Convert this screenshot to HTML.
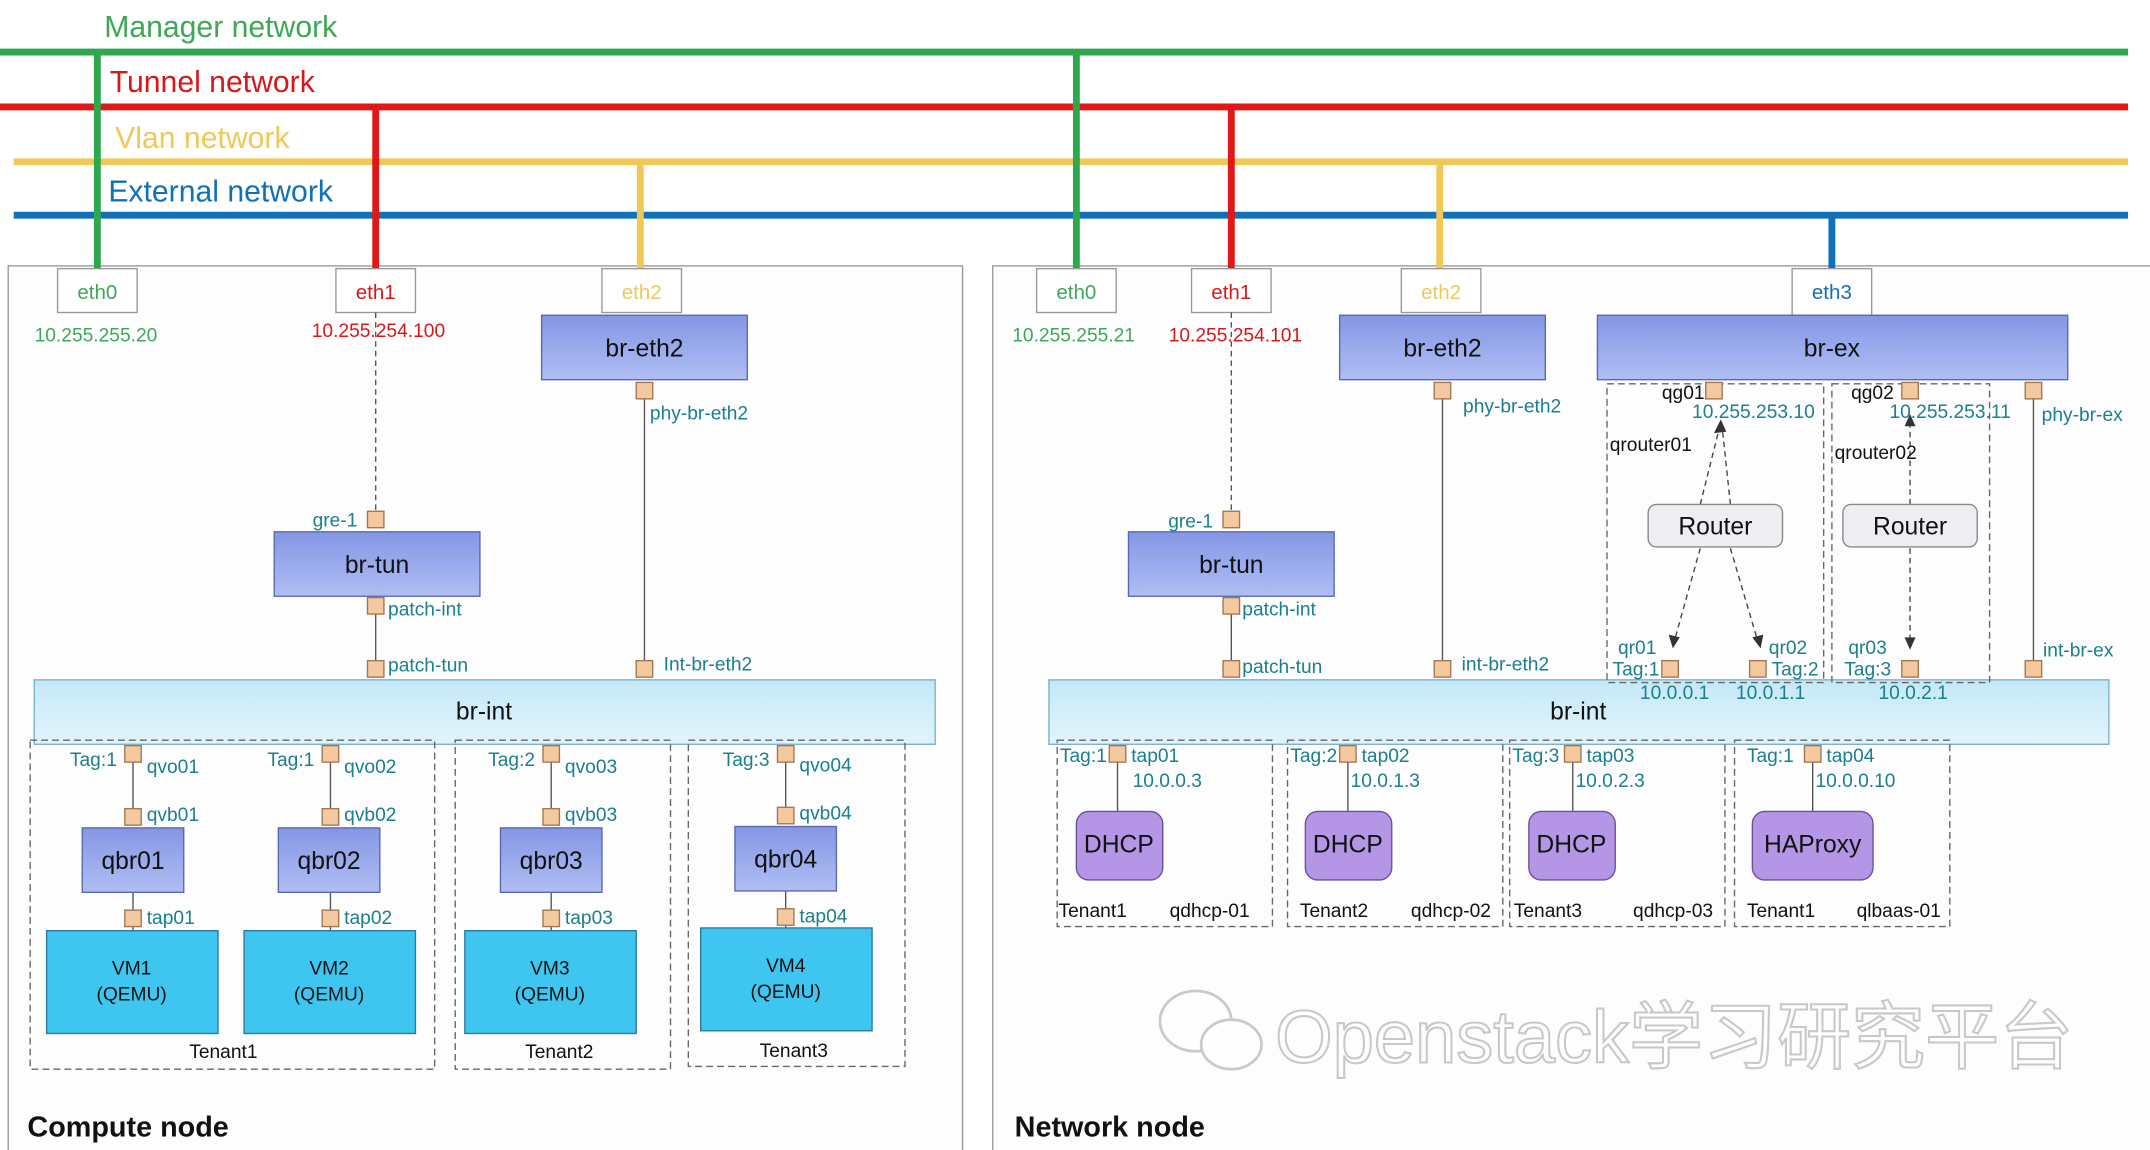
<!DOCTYPE html>
<html><head><meta charset="utf-8"><style>
html,body{margin:0;padding:0;background:#fff}
svg{display:block}
text{font-family:"Liberation Sans","Noto Sans CJK SC",sans-serif}
.p{fill:#f5c9a0;stroke:#a07850;stroke-width:1}
.l{fill:#1a7f8f;font-size:14px}
.br{fill:url(#gb);stroke:#5a68b0;stroke-width:1}
.bt{font-size:18px;fill:#111;text-anchor:middle}
.vm{fill:#3ec6f0;stroke:#2a7aa0}
.vt{font-size:14px;fill:#111;text-anchor:middle}
.dg{fill:none;stroke:#666;stroke-dasharray:5,3;stroke-width:1}
.dh{fill:#b596e6;stroke:#6a5098}
.k{fill:#111;font-size:14px}
</style></head><body>
<svg width="2150" height="1150" viewBox="0 0 1568 839" preserveAspectRatio="none">
<defs>
<linearGradient id="gb" x1="0" y1="0" x2="0" y2="1"><stop offset="0" stop-color="#8496e6"/><stop offset="1" stop-color="#b0bef2"/></linearGradient>
<linearGradient id="gi" x1="0" y1="0" x2="0" y2="1"><stop offset="0" stop-color="#c4e8f8"/><stop offset="1" stop-color="#e2f4fc"/></linearGradient>
</defs>
<rect width="1568" height="839" fill="#fff"/>
<!-- panels -->
<rect x="6" y="194" width="696" height="660" fill="#fdfdfd" stroke="#999"/>
<rect x="724" y="194" width="860" height="660" fill="#fdfdfd" stroke="#999"/>
<!-- networks -->
<line x1="0" y1="38" x2="1552" y2="38" stroke="#2ea84c" stroke-width="5"/>
<line x1="0" y1="78" x2="1552" y2="78" stroke="#e01818" stroke-width="5"/>
<line x1="10" y1="118" x2="1552" y2="118" stroke="#f0c858" stroke-width="5"/>
<line x1="10" y1="157" x2="1552" y2="157" stroke="#1070b8" stroke-width="5"/>
<text x="76" y="27" font-size="22" fill="#3ea856">Manager network</text>
<text x="80" y="67" font-size="22" fill="#d81818">Tunnel network</text>
<text x="84" y="108" font-size="22" fill="#f0c858">Vlan network</text>
<text x="79" y="147" font-size="22" fill="#1070b8">External network</text>
<g stroke-width="5">
<line x1="71" y1="38" x2="71" y2="197" stroke="#2ea84c"/>
<line x1="274" y1="78" x2="274" y2="197" stroke="#e01818"/>
<line x1="467" y1="118" x2="467" y2="197" stroke="#f0c858"/>
<line x1="785" y1="38" x2="785" y2="197" stroke="#2ea84c"/>
<line x1="898" y1="78" x2="898" y2="197" stroke="#e01818"/>
<line x1="1050" y1="118" x2="1050" y2="197" stroke="#f0c858"/>
<line x1="1336" y1="157" x2="1336" y2="197" stroke="#1070b8"/>
</g>
<!-- eth boxes -->
<g fill="#fff" stroke="#999">
<rect x="42" y="196" width="58" height="32"/><rect x="245" y="196" width="58" height="32"/><rect x="439" y="196" width="58" height="32"/>
<rect x="756" y="196" width="58" height="32"/><rect x="869" y="196" width="58" height="32"/><rect x="1022" y="196" width="58" height="32"/><rect x="1307" y="196" width="58" height="34"/>
</g>
<g font-size="15" text-anchor="middle">
<text x="71" y="218" fill="#3ea856">eth0</text><text x="274" y="218" fill="#d81818">eth1</text><text x="468" y="218" fill="#f0c858">eth2</text>
<text x="785" y="218" fill="#3ea856">eth0</text><text x="898" y="218" fill="#d81818">eth1</text><text x="1051" y="218" fill="#f0c858">eth2</text><text x="1336" y="218" fill="#1070b8">eth3</text>
<text x="70" y="249" fill="#3ea856" font-size="14">10.255.255.20</text><text x="276" y="246" fill="#d81818" font-size="14">10.255.254.100</text>
<text x="783" y="249" fill="#3ea856" font-size="14">10.255.255.21</text><text x="901" y="249" fill="#d81818" font-size="14">10.255.254.101</text>
</g>
<!-- connectors -->
<g stroke="#555" stroke-width="1" fill="none">
<line x1="274" y1="228" x2="274" y2="374" stroke-dasharray="4,3"/>
<line x1="898" y1="228" x2="898" y2="374" stroke-dasharray="4,3"/>
<line x1="470" y1="290" x2="470" y2="483"/>
<line x1="274" y1="440" x2="274" y2="483"/>
<line x1="1052" y1="290" x2="1052" y2="483"/>
<line x1="898" y1="440" x2="898" y2="483"/>
<line x1="1483" y1="290" x2="1483" y2="483"/>
<line x1="97" y1="556" x2="97" y2="596"/><line x1="241" y1="556" x2="241" y2="596"/><line x1="402" y1="556" x2="402" y2="596"/><line x1="573" y1="556" x2="573" y2="596"/>
<line x1="97" y1="650" x2="97" y2="679"/><line x1="241" y1="650" x2="241" y2="679"/><line x1="402" y1="650" x2="402" y2="679"/><line x1="573" y1="650" x2="573" y2="677"/>
<line x1="815" y1="556" x2="815" y2="592"/><line x1="983" y1="556" x2="983" y2="592"/><line x1="1147" y1="556" x2="1147" y2="592"/><line x1="1322" y1="556" x2="1322" y2="592"/>
</g>
<g stroke="#444" stroke-dasharray="4,3" fill="none">
<line x1="1240" y1="368" x2="1254" y2="312"/><line x1="1262" y1="368" x2="1256" y2="312"/>
<line x1="1240" y1="400" x2="1221" y2="468"/><line x1="1262" y1="400" x2="1282" y2="468"/>
<line x1="1393" y1="368" x2="1393" y2="308"/><line x1="1393" y1="400" x2="1393" y2="468"/>
</g>
<g fill="#333">
<polygon points="1255,306 1250,316 1259,315"/><polygon points="1393,302 1389,311 1397,311"/>
<polygon points="1220,473 1217,463 1225,465"/><polygon points="1284,473 1278,465 1286,463"/><polygon points="1393,474 1389,465 1397,465"/>
</g>
<!-- bridges -->
<rect class="br" x="395" y="230" width="150" height="47"/><text class="bt" x="470" y="260">br-eth2</text>
<rect class="br" x="200" y="388" width="150" height="47"/><text class="bt" x="275" y="418">br-tun</text>
<rect class="br" x="977" y="230" width="150" height="47"/><text class="bt" x="1052" y="260">br-eth2</text>
<rect class="br" x="1165" y="230" width="343" height="47"/><text class="bt" x="1336" y="260">br-ex</text>
<rect class="br" x="823" y="388" width="150" height="47"/><text class="bt" x="898" y="418">br-tun</text>
<rect x="25" y="496" width="657" height="47" fill="url(#gi)" stroke="#7ab0d0"/><text class="bt" x="353" y="525">br-int</text>
<rect x="765" y="496" width="773" height="47" fill="url(#gi)" stroke="#7ab0d0"/><text class="bt" x="1151" y="525">br-int</text>
<!-- dashed groups -->
<rect class="dg" x="22" y="540" width="295" height="240"/><rect class="dg" x="332" y="540" width="157" height="240"/><rect class="dg" x="502" y="540" width="158" height="238"/>
<rect class="dg" x="771" y="540" width="157" height="136"/><rect class="dg" x="939" y="540" width="157" height="136"/><rect class="dg" x="1101" y="540" width="157" height="136"/><rect class="dg" x="1265" y="540" width="157" height="136"/>
<rect class="dg" x="1172" y="280" width="158" height="218"/><rect class="dg" x="1336" y="280" width="115" height="218"/>
<!-- qbr, VMs -->
<g>
<rect class="br" x="60" y="604" width="74" height="47"/><text class="bt" x="97" y="634">qbr01</text>
<rect class="br" x="203" y="604" width="74" height="47"/><text class="bt" x="240" y="634">qbr02</text>
<rect class="br" x="365" y="604" width="74" height="47"/><text class="bt" x="402" y="634">qbr03</text>
<rect class="br" x="536" y="603" width="74" height="47"/><text class="bt" x="573" y="633">qbr04</text>
<rect class="vm" x="34" y="679" width="125" height="75"/><text class="vt" x="96" y="711">VM1</text><text class="vt" x="96" y="730">(QEMU)</text>
<rect class="vm" x="178" y="679" width="125" height="75"/><text class="vt" x="240" y="711">VM2</text><text class="vt" x="240" y="730">(QEMU)</text>
<rect class="vm" x="339" y="679" width="125" height="75"/><text class="vt" x="401" y="711">VM3</text><text class="vt" x="401" y="730">(QEMU)</text>
<rect class="vm" x="511" y="677" width="125" height="75"/><text class="vt" x="573" y="709">VM4</text><text class="vt" x="573" y="728">(QEMU)</text>
</g>
<text class="k" x="138" y="772">Tenant1</text><text class="k" x="383" y="772">Tenant2</text><text class="k" x="554" y="771">Tenant3</text>
<!-- DHCP -->
<rect class="dh" x="785" y="592" width="63" height="50" rx="9"/><text class="bt" x="816" y="622">DHCP</text>
<rect class="dh" x="952" y="592" width="63" height="50" rx="9"/><text class="bt" x="983" y="622">DHCP</text>
<rect class="dh" x="1115" y="592" width="63" height="50" rx="9"/><text class="bt" x="1146" y="622">DHCP</text>
<rect class="dh" x="1278" y="592" width="88" height="50" rx="9"/><text class="bt" x="1322" y="622">HAProxy</text>
<g class="k"><text x="772" y="669">Tenant1</text><text x="853" y="669">qdhcp-01</text>
<text x="948" y="669">Tenant2</text><text x="1029" y="669">qdhcp-02</text>
<text x="1104" y="669">Tenant3</text><text x="1191" y="669">qdhcp-03</text>
<text x="1274" y="669">Tenant1</text><text x="1354" y="669">qlbaas-01</text>
<text x="1174" y="329">qrouter01</text><text x="1338" y="335">qrouter02</text>
<text x="1212" y="291">qg01</text><text x="1350" y="291">qg02</text></g>
<!-- routers -->
<rect x="1202" y="368" width="98" height="31" rx="6" fill="#eeeef2" stroke="#888"/><text class="bt" x="1251" y="390">Router</text>
<rect x="1344" y="368" width="98" height="31" rx="6" fill="#eeeef2" stroke="#888"/><text class="bt" x="1393" y="390">Router</text>
<!-- ports -->
<g class="p">
<rect x="464" y="279" width="12" height="12"/><rect x="268" y="373" width="12" height="12"/><rect x="268" y="436" width="12" height="12"/>
<rect x="268" y="482" width="12" height="12"/><rect x="464" y="482" width="12" height="12"/>
<rect x="91" y="544" width="12" height="12"/><rect x="235" y="544" width="12" height="12"/><rect x="396" y="544" width="12" height="12"/><rect x="567" y="544" width="12" height="12"/>
<rect x="91" y="590" width="12" height="12"/><rect x="235" y="590" width="12" height="12"/><rect x="396" y="590" width="12" height="12"/><rect x="567" y="589" width="12" height="12"/>
<rect x="91" y="664" width="12" height="12"/><rect x="235" y="664" width="12" height="12"/><rect x="396" y="664" width="12" height="12"/><rect x="567" y="663" width="12" height="12"/>
<rect x="1046" y="279" width="12" height="12"/><rect x="892" y="373" width="12" height="12"/><rect x="892" y="436" width="12" height="12"/>
<rect x="892" y="482" width="12" height="12"/><rect x="1046" y="482" width="12" height="12"/>
<rect x="1244" y="279" width="12" height="12"/><rect x="1387" y="279" width="12" height="12"/><rect x="1477" y="279" width="12" height="12"/>
<rect x="1212" y="482" width="12" height="12"/><rect x="1276" y="482" width="12" height="12"/><rect x="1387" y="482" width="12" height="12"/><rect x="1477" y="482" width="12" height="12"/>
<rect x="809" y="544" width="12" height="12"/><rect x="977" y="544" width="12" height="12"/><rect x="1141" y="544" width="12" height="12"/><rect x="1316" y="544" width="12" height="12"/>
</g>
<!-- port labels -->
<g class="l">
<text x="474" y="306">phy-br-eth2</text><text x="228" y="384">gre-1</text><text x="283" y="449">patch-int</text><text x="283" y="490">patch-tun</text><text x="484" y="489">Int-br-eth2</text>
<text x="51" y="559">Tag:1</text><text x="107" y="564">qvo01</text><text x="195" y="559">Tag:1</text><text x="251" y="564">qvo02</text>
<text x="356" y="559">Tag:2</text><text x="412" y="564">qvo03</text><text x="527" y="559">Tag:3</text><text x="583" y="563">qvo04</text>
<text x="107" y="599">qvb01</text><text x="251" y="599">qvb02</text><text x="412" y="599">qvb03</text><text x="583" y="598">qvb04</text>
<text x="107" y="674">tap01</text><text x="251" y="674">tap02</text><text x="412" y="674">tap03</text><text x="583" y="673">tap04</text>
<text x="1067" y="301">phy-br-eth2</text><text x="852" y="385">gre-1</text><text x="906" y="449">patch-int</text><text x="906" y="491">patch-tun</text><text x="1066" y="489">int-br-eth2</text>
<text x="1234" y="305">10.255.253.10</text><text x="1378" y="305">10.255.253.11</text><text x="1489" y="307">phy-br-ex</text><text x="1490" y="479">int-br-ex</text>
<text x="1180" y="477">qr01</text><text x="1176" y="493">Tag:1</text><text x="1196" y="510">10.0.0.1</text>
<text x="1290" y="477">qr02</text><text x="1292" y="493">Tag:2</text><text x="1266" y="510">10.0.1.1</text>
<text x="1348" y="477">qr03</text><text x="1345" y="493">Tag:3</text><text x="1370" y="510">10.0.2.1</text>
<text x="773" y="556">Tag:1</text><text x="825" y="556">tap01</text><text x="826" y="574">10.0.0.3</text>
<text x="941" y="556">Tag:2</text><text x="993" y="556">tap02</text><text x="985" y="574">10.0.1.3</text>
<text x="1103" y="556">Tag:3</text><text x="1157" y="556">tap03</text><text x="1149" y="574">10.0.2.3</text>
<text x="1274" y="556">Tag:1</text><text x="1332" y="556">tap04</text><text x="1324" y="574">10.0.0.10</text>
</g>
<!-- watermark -->
<g opacity="0.5">
<ellipse cx="872" cy="745" rx="26" ry="22" fill="#fff" stroke="#999" stroke-width="2"/>
<ellipse cx="898" cy="762" rx="22" ry="18" fill="#fff" stroke="#999" stroke-width="2"/>
</g>
<text x="930" y="775" font-size="54" fill="#fff" stroke="#bbb" stroke-width="1.5" opacity="0.8">Openstack学习研究平台</text>
<text x="20" y="829" font-size="21" font-weight="bold" fill="#111">Compute node</text>
<text x="740" y="829" font-size="21" font-weight="bold" fill="#111">Network node</text>
</svg>
</body></html>
